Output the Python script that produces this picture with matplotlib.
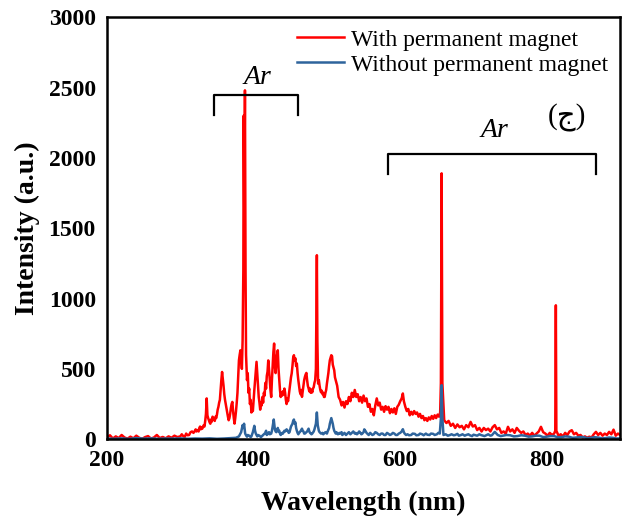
import matplotlib
matplotlib.use("Agg")
import matplotlib.pyplot as plt

# -----------------------------
# Spectrum values (wavelength nm, intensity a.u.)
# -----------------------------
red_points = [
    (200, 10), (204, 28), (208, 5), (212, 20), (216, 8), (220, 30), (224, 12), (228, 4),
    (232, 18), (236, 6), (240, 25), (244, 10), (248, 3), (252, 15), (256, 22), (260, 5),
    (264, 12), (268, 30), (272, 8), (276, 16), (280, 6), (284, 20), (288, 10), (292, 25),
    (296, 15), (300, 20), (302, 35), (304, 22), (306, 15), (308, 40), (310, 28), (312, 30),
    (314, 50), (316, 55), (318, 45), (320, 60), (321, 70), (322, 55), (324, 65), (325, 55),
    (326, 80), (327, 90), (328, 70), (329, 85), (330, 75), (332, 100), (333, 90), (334, 130),
    (335, 180), (336, 290), (337, 170), (338, 150), (339, 135), (340, 120), (341, 110),
    (342, 140), (343, 125), (344, 160), (345, 140), (346, 150), (347, 130), (348, 160),
    (349, 150), (350, 175), (351, 210), (352, 230), (353, 260), (354, 280), (355, 350),
    (356, 420), (357, 478), (358, 430), (359, 380), (360, 320), (361, 280), (362, 250),
    (363, 220), (364, 190), (365, 160), (366, 135), (367, 150), (368, 180), (369, 220),
    (370, 250), (371, 265), (372, 200), (373, 150), (374, 111), (375, 150), (376, 200),
    (377, 260), (378, 330), (379, 450), (380, 561), (381, 600), (382, 632), (383, 580),
    (384, 500), (385, 700), (386, 1200), (386.5, 2300), (387.3, 1600), (388.2, 2480),
    (389, 1200), (389.7, 600), (391, 420), (392, 470), (393, 330), (394, 360), (395, 250),
    (396, 280), (397, 190), (398, 230), (399, 200), (400, 280), (401, 350), (402, 420),
    (403, 480), (404, 550), (405, 470), (406, 380), (407, 300), (408, 260), (409, 210),
    (410, 260), (411, 240), (412, 300), (413, 260), (414, 330), (415, 310), (416, 400),
    (417, 360), (418, 450), (419, 480), (420, 560), (421, 500), (422, 420), (423, 350),
    (424, 300), (425, 420), (426, 520), (427, 620), (428, 680), (429, 520), (430, 470),
    (431, 560), (432, 600), (433, 632), (434, 500), (435, 420), (436, 348), (437, 300),
    (438, 330), (439, 310), (440, 340), (441, 320), (442, 360), (443, 330), (444, 280),
    (445, 250), (446, 290), (447, 270), (448, 313), (449, 360), (450, 400), (451, 440),
    (452, 469), (453, 520), (454, 580), (455, 597), (456, 560), (457, 575), (458, 520),
    (459, 538), (460, 470), (461, 420), (462, 380), (463, 340), (464, 320), (465, 350),
    (466, 301), (467, 340), (468, 380), (469, 420), (470, 443), (471, 460), (472, 471),
    (473, 420), (474, 380), (475, 362), (476, 340), (477, 360), (478, 330), (479, 350),
    (480, 333), (481, 360), (482, 370), (483, 400), (484, 419), (485, 500), (485.7, 900),
    (486.3, 1308), (487, 700), (488, 395), (489, 420), (490, 380), (491, 350), (492, 333),
    (493, 345), (494, 320), (495, 330), (496, 300), (497, 301), (498, 330), (499, 350),
    (500, 395), (501, 430), (502, 470), (503, 520), (504, 561), (505, 580), (506, 597),
    (507, 590), (508, 530), (509, 510), (510, 490), (511, 440), (512, 420), (514, 380),
    (516, 300), (518, 280), (520, 240), (522, 265), (524, 225), (526, 270), (528, 250),
    (530, 300), (532, 270), (534, 330), (536, 300), (538, 350), (540, 300), (542, 320),
    (544, 270), (546, 300), (548, 260), (550, 310), (552, 270), (554, 290), (556, 230),
    (558, 250), (560, 195), (562, 215), (564, 170), (566, 240), (568, 290), (570, 240),
    (572, 260), (574, 210), (576, 230), (578, 195), (580, 235), (582, 210), (584, 230),
    (586, 185), (588, 215), (590, 190), (592, 220), (594, 180), (596, 230), (598, 245),
    (600, 270), (602, 290), (603.6, 325), (605, 270), (607, 230), (609, 200), (611, 215),
    (613, 170), (615, 195), (617, 175), (619, 200), (621, 180), (623, 190), (625, 160),
    (627, 180), (629, 150), (631, 165), (633, 135), (635, 150), (637, 130), (639, 155),
    (641, 140), (643, 165), (645, 145), (647, 170), (649, 150), (651, 175), (653, 160),
    (654.5, 190), (655.5, 400), (656.5, 1890), (657.5, 400), (660, 135), (663, 115),
    (666, 130), (669, 95), (672, 110), (675, 80), (678, 105), (681, 85), (684, 95),
    (687, 70), (690, 100), (693, 85), (696, 123), (699, 90), (702, 100), (705, 65),
    (708, 80), (711, 55), (714, 80), (717, 65), (720, 75), (723, 55), (726, 85), (729, 100),
    (732, 70), (735, 80), (738, 45), (741, 55), (744, 40), (747, 88), (750, 55), (753, 70),
    (756, 45), (759, 80), (762, 60), (765, 45), (768, 55), (771, 30), (774, 40), (777, 25),
    (780, 45), (783, 25), (786, 40), (789, 55), (792, 88), (795, 50), (798, 40), (801, 25),
    (804, 45), (807, 30), (810, 40), (811.5, 60), (812.3, 952), (813, 60), (816, 25),
    (819, 35), (822, 20), (825, 45), (828, 30), (831, 55), (834, 64), (837, 35), (840, 45),
    (843, 25), (846, 30), (849, 12), (852, 20), (855, 10), (858, 18), (861, 12), (864, 35),
    (867, 52), (870, 30), (873, 45), (876, 25), (879, 40), (882, 30), (885, 52), (888, 35),
    (891, 68), (894, 25), (897, 40), (900, 30),
]

blue_points = [
    (200, 5), (210, 3), (220, 6), (230, 2), (240, 8), (250, 4), (260, 6), (270, 3),
    (280, 5), (290, 4), (300, 6), (310, 3), (320, 5), (330, 4), (340, 6), (350, 3),
    (360, 5), (370, 8), (376, 10), (380, 20), (383, 50), (385, 100), (386, 80), (387, 110),
    (388.5, 40), (390, 25), (391, 18), (392, 30), (394, 25), (396, 15), (397, 20),
    (399, 50), (401, 95), (402, 60), (403, 40), (405, 20), (406, 30), (408, 25), (410, 15),
    (412, 25), (413, 30), (415, 40), (416, 45), (417, 60), (418, 30), (420, 40), (421, 50),
    (422, 35), (424, 40), (425, 60), (426, 90), (427.5, 140), (429, 70), (430, 55),
    (431, 50), (432, 65), (433, 80), (434, 55), (435, 60), (436, 40), (437, 30), (439, 45),
    (440, 40), (442, 60), (443, 55), (445, 70), (446, 64), (448, 45), (449, 50), (450, 70),
    (451, 90), (452, 100), (453, 110), (454, 130), (455, 140), (456, 110), (457, 120),
    (458, 80), (459, 60), (460, 45), (461, 35), (462, 45), (463, 50), (465, 65), (466, 75),
    (467, 60), (468, 55), (469, 40), (470, 40), (472, 50), (473, 55), (474, 65), (475, 75),
    (476, 55), (477, 45), (479, 35), (480, 40), (482, 55), (483, 70), (484, 90), (485, 110),
    (486.3, 190), (487.5, 100), (489, 60), (490, 50), (492, 40), (494, 45), (495, 35),
    (497, 45), (498, 50), (500, 40), (501, 55), (503, 80), (504, 110), (506, 150),
    (508, 110), (509, 80), (510, 60), (512, 40), (513, 50), (515, 35), (517, 45), (518, 40),
    (520, 50), (521, 30), (523, 40), (524, 45), (526, 30), (527, 35), (529, 45), (530, 50),
    (532, 35), (533, 40), (535, 50), (536, 55), (538, 40), (539, 45), (541, 35), (542, 40),
    (544, 55), (545, 50), (547, 35), (548, 38), (550, 50), (551, 70), (553, 55), (554, 45),
    (556, 35), (557, 30), (559, 45), (560, 40), (562, 30), (564, 35), (566, 50), (568, 45),
    (570, 35), (572, 30), (574, 40), (576, 40), (578, 30), (580, 30), (582, 45), (584, 38),
    (586, 30), (588, 35), (590, 45), (592, 40), (594, 30), (596, 30), (598, 40), (600, 45),
    (602, 55), (603.6, 71), (605, 50), (606, 40), (608, 30), (610, 35), (612, 28),
    (615, 30), (617, 40), (620, 38), (622, 28), (625, 30), (627, 40), (630, 35), (632, 28),
    (635, 40), (637, 32), (640, 30), (642, 40), (645, 38), (647, 30), (650, 35), (652, 45),
    (654, 40), (655.5, 150), (656.5, 384), (657.5, 150), (659, 30), (662, 35), (665, 25),
    (668, 30), (670, 35), (673, 28), (675, 30), (678, 38), (680, 25), (683, 30), (685, 35),
    (688, 25), (690, 30), (693, 35), (695, 28), (698, 22), (700, 32), (703, 28), (705, 25),
    (708, 35), (710, 30), (713, 25), (715, 22), (718, 30), (720, 35), (723, 25), (725, 28),
    (729, 52), (733, 30), (737, 22), (740, 25), (745, 30), (750, 28), (755, 20), (760, 22),
    (765, 28), (770, 25), (775, 18), (780, 20), (785, 25), (790, 25), (795, 15), (800, 18),
    (805, 22), (810, 22), (815, 14), (820, 15), (825, 20), (830, 18), (835, 10), (840, 12),
    (845, 16), (850, 15), (855, 8), (860, 10), (865, 14), (870, 12), (875, 6), (880, 8),
    (885, 12), (890, 10), (895, 5), (900, 6),
]

x_ticks = [200, 400, 600, 800]
y_ticks = [0, 500, 1000, 1500, 2000, 2500, 3000]

wl_with = [p[0] for p in red_points]
int_with = [p[1] for p in red_points]
wl_without = [p[0] for p in blue_points]
int_without = [p[1] for p in blue_points]

# -----------------------------
# Plot
# -----------------------------
plt.rcParams['font.family'] = ['Liberation Serif', 'DejaVu Sans']

fig = plt.figure(figsize=(6.22, 5.21), dpi=100)
ax = fig.add_axes([0.172, 0.157, 0.825, 0.810])

ax.plot(wl_with, int_with, color='#ff0000', lw=1.8, label='With permanent magnet')
ax.plot(wl_without, int_without, color='#2e649c', lw=1.8, label='Without permanent magnet')

ax.set_xlim(200, 900)
ax.set_ylim(0, 3000)
ax.set_xticks(x_ticks)
ax.set_yticks(y_ticks)
ax.tick_params(length=0, labelsize=17, pad=8)
for lab in ax.get_xticklabels() + ax.get_yticklabels():
    lab.set_fontweight('bold')
for sp in ax.spines.values():
    sp.set_linewidth(1.8)

ax.set_xlabel('Wavelength (nm)', fontsize=20, fontweight='bold', labelpad=14)
ax.set_ylabel('Intensity (a.u.)', fontsize=20, fontweight='bold', labelpad=6)

# brackets over the argon line groups
ax.plot([346, 346, 460, 460], [2303, 2445, 2445, 2303], color='black', lw=1.6)
ax.plot([584, 584, 867, 867], [1883, 2026, 2026, 1883], color='black', lw=1.6)
ax.text(405, 2573, 'Ar', fontsize=20, style='italic', ha='center', va='center')
ax.text(729, 2196, 'Ar', fontsize=20, style='italic', ha='center', va='center')
ax.text(827, 2281, '(ج)', fontsize=21, ha='center', va='center')

ax.legend(loc='upper right', frameon=False, fontsize=17, handlelength=2.0,
          handletextpad=0.3, labelspacing=0.15, borderaxespad=0.1,
          bbox_to_anchor=(1.0, 1.0))

fig.savefig('out.png', dpi=100)
